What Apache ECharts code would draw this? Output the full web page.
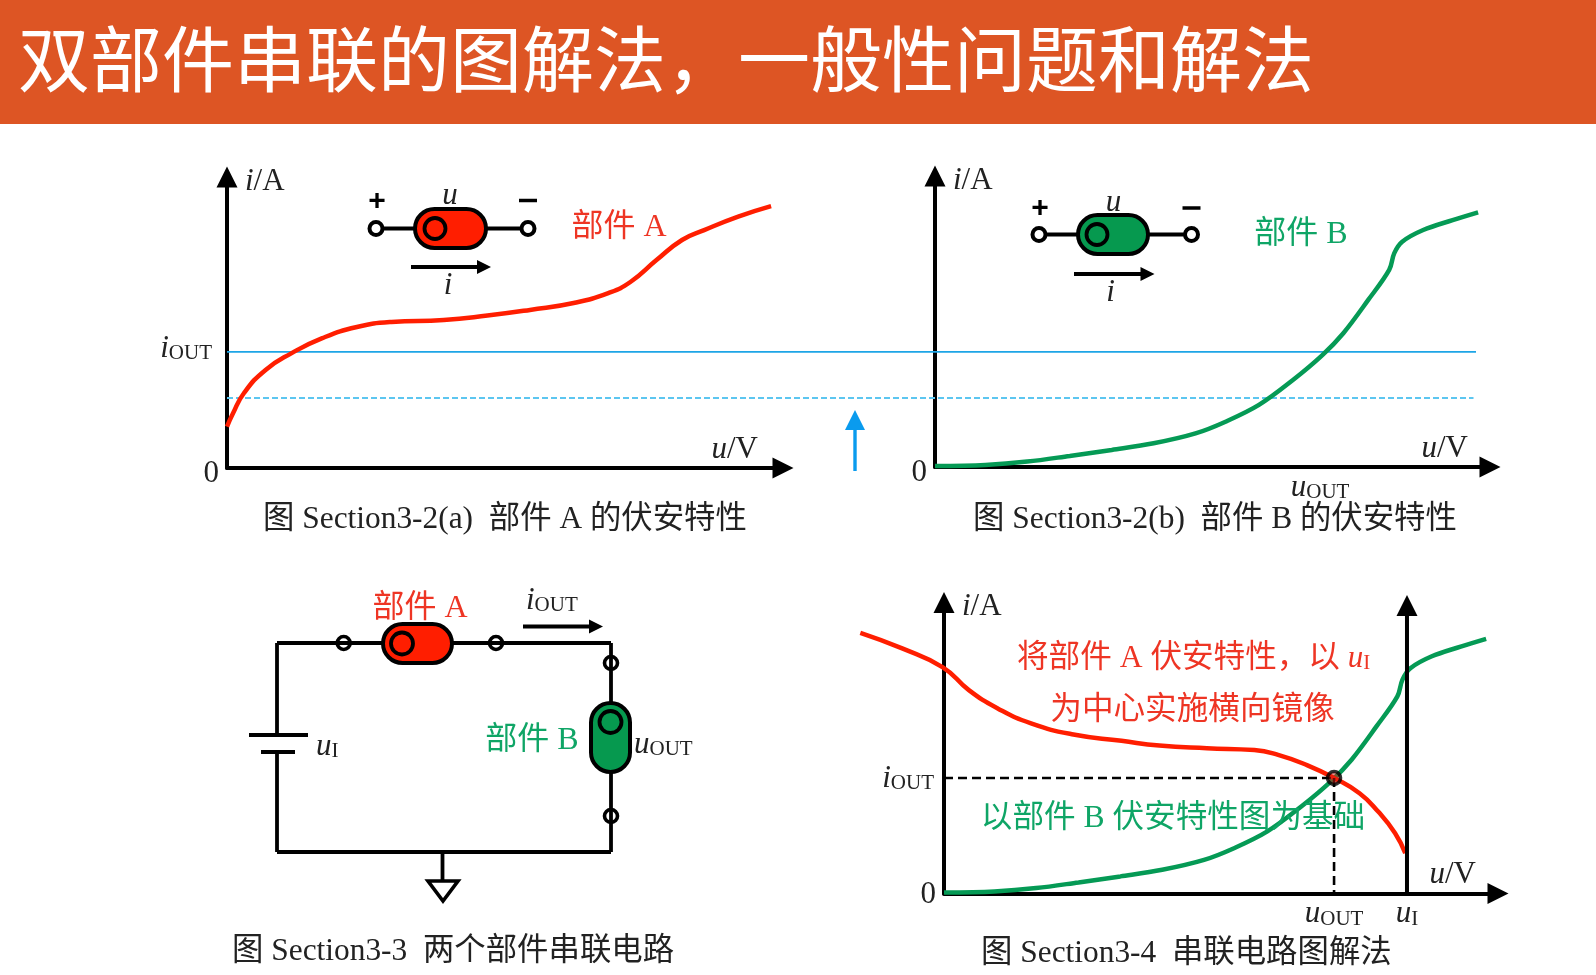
<!DOCTYPE html>
<html><head><meta charset="utf-8">
<style>html,body{margin:0;padding:0;background:#fff}#c{width:1596px;height:975px}</style>
<script src="https://cdn.jsdelivr.net/npm/echarts@6/dist/echarts.min.js"></script>
</head><body><div id="c"></div>
<script>
// ---- data (axis units, arbitrary 0..100) ----
const partA_u = [0,1,3,6.8,11.4,16.8,22.9,29,38.2,45.9,53.4,61.1,67.2,71.1,75.7,80.2,84.1,90.1,95.9];
const partA_i = [13.8,18,25,32.7,38.3,43.3,47,48.7,49.3,50.8,52.7,55,58.3,62,69.3,76,79.3,83.8,87.3];
const partB_u = [0,8.9,16.3,23.8,31.2,38.6,46,51.3,57.2,63.2,68.4,72.1,76.5,80.2,81.1,82.5,86.2,91.4,95.9];
const partB_i = [0.3,0.7,1.8,3.7,5.7,7.9,11.2,15.1,20.7,29,37.3,44.6,55.7,65.7,71.3,75.1,79,82.3,84.9];
const mirrorA_u = [-14.8,-7.4,-0.2,4.4,9.5,15.4,22.9,31.4,38.1,46.5,54.9,59.1,64.2,69,73.5,76.8,79.8,81.6];
const mirrorA_i = [86.9,81.7,75.4,67.8,61.7,56.7,53,50.9,49.3,48.4,47.8,46.2,42.8,38.5,33.4,27.3,20.1,13.4];
const iOutLevel = 38.7, iOutLowered = 23.3, uOutB = 68;
const iOutD = 38.5, uOutD = 69, uInput = 81.9;
const titleText = '双部件串联的图解法，一般性问题和解法';
const captions = ['图 Section3-2(a)  部件 A 的伏安特性','图 Section3-2(b)  部件 B 的伏安特性','图 Section3-3  两个部件串联电路','图 Section3-4  串联电路图解法'];

const FF = '"Liberation Serif","Noto Sans CJK SC",serif';
const RED='#FF1E00', GREEN='#059A55', TXT_RED='#EE3524', TXT_GREEN='#0FA566', K='#000', TXT='#222';
const pairs=(a,b)=>a.map((v,k)=>[v,b[k]]);

const richBase = {
  it:{fontFamily:FF,fontStyle:'italic',fontSize:31,color:TXT,verticalAlign:'bottom',lineHeight:32},
  n:{fontFamily:FF,fontSize:31,color:TXT,verticalAlign:'bottom',lineHeight:32},
  s:{fontFamily:FF,fontSize:21,color:TXT,verticalAlign:'bottom',lineHeight:28},
  z:{fontFamily:FF,fontSize:31,color:TXT,verticalAlign:'top',lineHeight:32,padding:[6,0,0,0]},
  z2:{fontFamily:FF,fontSize:31,color:TXT,verticalAlign:'top',lineHeight:32,padding:[2,0,0,0]},
  oit:{fontFamily:FF,fontStyle:'italic',fontSize:31,color:TXT,verticalAlign:'bottom',lineHeight:32,padding:[0,0,4,0]},
  os:{fontFamily:FF,fontSize:21,color:TXT,verticalAlign:'bottom',lineHeight:28,padding:[0,7,4,0]},
  oit2:{fontFamily:FF,fontStyle:'italic',fontSize:31,color:TXT,verticalAlign:'bottom',lineHeight:32},
  os2:{fontFamily:FF,fontSize:21,color:TXT,verticalAlign:'bottom',lineHeight:28,padding:[0,2,0,0]}
};

function yAx(idx, vals, fmt){
  return {gridIndex:idx,type:'value',min:0,max:97,
    name:'{it|i}{n|/A}',nameLocation:'end',nameGap:0,
    nameTextStyle:{align:'left',verticalAlign:'middle',padding:[8,0,0,18],rich:richBase},
    axisLine:{show:true,onZero:false,lineStyle:{color:K,width:4},symbol:['none','triangle'],symbolSize:[21,21]},
    axisTick:{show:false},splitLine:{show:false},
    axisLabel:{show:true,customValues:vals,formatter:fmt,margin:8,rich:richBase}};
}
function xAx(idx, vals, fmt, gap){
  return {gridIndex:idx,type:'value',min:0,max:98,
    name:'{it|u}{n|/V}',nameLocation:'end',nameGap:gap,
    nameTextStyle:{align:'right',verticalAlign:'bottom',padding:[0,0,3,0],rich:richBase},
    axisLine:{show:true,onZero:false,lineStyle:{color:K,width:4},symbol:['none','triangle'],symbolSize:[21,21]},
    axisTick:{show:false},splitLine:{show:false},
    axisLabel:vals?{show:true,customValues:vals,formatter:fmt,margin:4,rich:richBase}:{show:false}};
}

// ---- annotation drawing helpers ----
const g=[];
const wire=(x1,y1,x2,y2,w=3.8,c=K)=>g.push({type:'line',silent:true,z:10,shape:{x1,y1,x2,y2},style:{stroke:c,lineWidth:w}});
const ring=(cx,cy,r,fill='transparent',w=3.6)=>g.push({type:'circle',silent:true,z:11,shape:{cx,cy,r},style:{fill,stroke:K,lineWidth:w}});
const tri=(pts,fill=K,stroke=null,w=0)=>g.push({type:'polygon',silent:true,z:11,shape:{points:pts},style:{fill,stroke,lineWidth:w}});
function label(x,y,text,color,size=32,align='center'){
  g.push({type:'text',silent:true,z:12,style:{x,y,text,fill:color,font:size+'px '+FF,align,textAlign:align,verticalAlign:'middle',textVerticalAlign:'middle'}});
}
function ital(x,y,t,sub,align='left'){
  const text = sub ? '{a|'+t+'}{b|'+sub+'}' : '{a|'+t+'}';
  g.push({type:'text',silent:true,z:12,style:{x,y,text,align,textAlign:align,verticalAlign:'middle',textVerticalAlign:'middle',
    rich:{a:{fontFamily:FF,fontStyle:'italic',fontSize:31,fill:TXT,color:TXT,verticalAlign:'bottom',lineHeight:32},
          b:{fontFamily:FF,fontSize:21,fill:TXT,color:TXT,verticalAlign:'bottom',lineHeight:28}}}});
}
function body(x,y,w,h,cx,cy,fill,r){
  g.push({type:'rect',silent:true,z:11,shape:{x,y,width:w,height:h,r:Math.min(w,h)/2},style:{fill,stroke:K,lineWidth:4}});
  ring(cx,cy,r,fill,3.8);
}
function arrowR(x1,x2,y){ wire(x1,y,x2-10,y,3.8); tri([[x2-14,y-7],[x2,y],[x2-14,y+7]]); }
function legendIcon(xl,xr,cy,bx,bw,icx,fill,plusY,uX,uY,ax1,ax2,ay,iX,iY){
  wire(xl,cy,xr,cy);
  body(bx,cy-19.5,bw,39,icx,cy,fill,10.5);
  ring(xl,cy,6.5,'#fff',4); ring(xr,cy,6.5,'#fff',4);
  g.push({type:'text',silent:true,z:12,style:{x:xl+1,y:plusY,text:'+',fill:K,font:'bold 30px "Liberation Sans"',align:'center',textAlign:'center',verticalAlign:'middle',textVerticalAlign:'middle'}});
  wire(xr-9,plusY-1,xr+9,plusY-1,3.5);
  ital(uX,uY,'u',null,'center');
  arrowR(ax1,ax2,ay);
  ital(iX,iY,'i',null,'center');
}

// header
g.push({type:'rect',silent:true,z:0,shape:{x:0,y:0,width:1596,height:124},style:{fill:'#DD5524'}});
// chart annotations
legendIcon(376,528,228.5,415,71,435,RED,201.5,450,195,411,491,267,448,285);
legendIcon(1039,1191.5,234.5,1078,70,1097,'#06994F',209,1113.5,202.5,1074,1154.5,274,1110.5,292);
label(619,228,'部件 A',TXT_RED);
label(1301,235,'部件 B',TXT_GREEN);
// blue shift arrow
wire(855,428,855,471,3.4,'#0A9BEE');
tri([[845,430],[855,410],[865,430]],'#0A9BEE');
// series circuit
wire(277,643,611,643); wire(277,643,277,735); wire(277,752,277,852); wire(277,852,611,852); wire(611,643,611,852);
wire(249,735,308,735,4.2); wire(261,752,295,752,4.2);
ital(316,746,'u','I');
body(383,624,69,39,402,643.5,RED,11);
ring(343.7,643,6.5); ring(496,643,6.5); ring(611,663,6.5); ring(611,816,6.5);
label(420,608.5,'部件 A',TXT_RED);
ital(526,600,'i','OUT');
arrowR(523,603,626.5);
body(591,703,39,69,610.5,722,'#06994F',11);
label(532,741,'部件 B',TXT_GREEN);
ital(634,744,'u','OUT');
wire(442.5,852,442.5,882);
tri([[428,881],[458,881],[443,901]],'#fff',K,3.6);
// graphical solution texts
g.push({type:'text',silent:true,z:12,style:{x:1017,y:656,text:'{c|将部件 A 伏安特性，以 }{a|u}{b|I}',align:'left',textAlign:'left',verticalAlign:'middle',textVerticalAlign:'middle',
  rich:{c:{fontFamily:FF,fontSize:31.6,fill:TXT_RED,color:TXT_RED,verticalAlign:'bottom',lineHeight:36},
        a:{fontFamily:FF,fontStyle:'italic',fontSize:31,fill:TXT_RED,color:TXT_RED,verticalAlign:'bottom',lineHeight:33},
        b:{fontFamily:FF,fontSize:21,fill:TXT_RED,color:TXT_RED,verticalAlign:'bottom',lineHeight:29}}}});
label(1192.5,710.5,'为中心实施横向镜像',TXT_RED,31.6);
label(1173,819,'以部件 B 伏安特性图为基础',TXT_GREEN,31.6);

// ---- chart ----
const tStyle=(size,color='#222')=>({fontFamily:FF,fontSize:size,fontWeight:'normal',color});
const option={
  backgroundColor:'#fff',
  animation:false,
  title:[
    {text:titleText,left:18,top:31,padding:0,textStyle:tStyle(72,'#fff')},
    {text:captions[0],left:263,top:504,padding:0,textStyle:tStyle(31.4)},
    {text:captions[1],left:973,top:504,padding:0,textStyle:tStyle(31.4)},
    {text:captions[2],left:232,top:936,padding:0,textStyle:tStyle(31.4)},
    {text:captions[3],left:981,top:938,padding:0,textStyle:tStyle(31.4)}
  ],
  grid:[
    {left:227,top:177,width:556,height:291},
    {left:935,top:176,width:555,height:291},
    {left:944,top:602.5,width:554,height:291},
    {left:227,top:177,width:1249,height:291},
    {left:859.2,top:602.5,width:638.8,height:291}
  ],
  xAxis:[
    xAx(0,null,null,-25),
    xAx(1,[uOutB],()=>'{it|u}{s|OUT}',-22),
    xAx(2,[uOutD,uInput],v=>v===uOutD?'{it|u}{s|OUT}':'{it|u}{s|I}',-22),
    {gridIndex:3,type:'value',min:0,max:100,show:false},
    {gridIndex:4,type:'value',min:-15,max:98,show:false}
  ],
  yAxis:[
    yAx(0,[0,iOutLevel],v=>v===0?'{z|0}':'{oit|i}{os|OUT}'),
    yAx(1,[0],()=>'{z|0}'),
    yAx(2,[0,iOutD],v=>v===0?'{z2|0}':'{oit2|i}{os2|OUT}'),
    {gridIndex:3,type:'value',min:0,max:97,show:false},
    {gridIndex:4,type:'value',min:0,max:97,show:false}
  ],
  graphic:{elements:g},
  series:[
    {type:'line',name:'iOUT',xAxisIndex:3,yAxisIndex:3,data:[[0,iOutLevel],[100,iOutLevel]],symbol:'none',z:1,lineStyle:{color:'#1DA5E6',width:1.8}},
    {type:'line',name:'iOUT lowered',xAxisIndex:3,yAxisIndex:3,data:[[0,iOutLowered],[99.8,iOutLowered]],symbol:'none',z:1,lineStyle:{color:'#5CC6F0',width:2,type:[6,3]}},
    {type:'line',name:'部件 A',xAxisIndex:0,yAxisIndex:0,data:pairs(partA_u,partA_i),smooth:0.5,symbol:'none',clip:false,z:3,lineStyle:{color:RED,width:4.5}},
    {type:'line',name:'部件 B',xAxisIndex:1,yAxisIndex:1,data:pairs(partB_u,partB_i),smooth:0.35,symbol:'none',clip:false,z:3,lineStyle:{color:GREEN,width:4.5}},
    {type:'line',name:'部件 B 基础',xAxisIndex:2,yAxisIndex:2,data:pairs(partB_u,partB_i),smooth:0.35,symbol:'none',clip:false,z:3,lineStyle:{color:GREEN,width:4.5}},
    {type:'line',name:'部件 A 镜像',xAxisIndex:4,yAxisIndex:4,data:pairs(mirrorA_u,mirrorA_i),smooth:0.5,symbol:'none',clip:false,z:4,lineStyle:{color:RED,width:4.5}},
    {type:'line',name:'iOUT 虚线',xAxisIndex:2,yAxisIndex:2,data:[[0,iOutD],[uOutD,iOutD]],symbol:'none',z:5,lineStyle:{color:K,width:2.6,type:[9,5]}},
    {type:'line',name:'uOUT 虚线',xAxisIndex:2,yAxisIndex:2,data:[[uOutD,iOutD],[uOutD,0]],symbol:'none',z:5,lineStyle:{color:K,width:2.6,type:[9,5]}},
    {type:'line',name:'uI',xAxisIndex:2,yAxisIndex:2,data:[[uInput,0],[uInput,96]],symbol:'none',z:5,lineStyle:{color:K,width:4},
      markPoint:{symbol:'triangle',symbolSize:[21,21],silent:true,label:{show:false},itemStyle:{color:K},data:[{coord:[uInput,96]}]}},
    {type:'scatter',name:'工作点',xAxisIndex:2,yAxisIndex:2,data:[[uOutD,iOutD]],symbol:'circle',symbolSize:13,z:6,itemStyle:{color:'rgba(220,30,20,0.6)',borderColor:K,borderWidth:3.5}}
  ]
};
echarts.init(document.getElementById('c'),null,{renderer:'canvas'}).setOption(option);
</script></body></html>
